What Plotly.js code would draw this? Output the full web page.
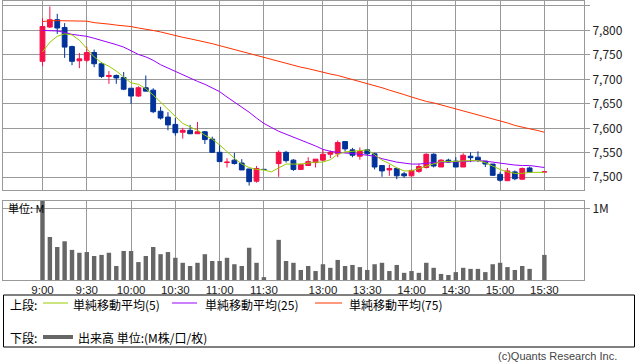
<!DOCTYPE html>
<html>
<head>
<meta charset="utf-8">
<script src="https://cdn.plot.ly/plotly-3.0.1.min.js"></script>
<style>
html,body{margin:0;padding:0;background:#fff;}
#chart{width:638px;height:362px;}
</style>
</head>
<body>
<div id="chart"></div>
<script>
// ---- data ----
var times = ["9:00","9:05","9:10","9:15","9:20","9:25","9:30","9:35","9:40","9:45","9:50","9:55",
"10:00","10:05","10:10","10:15","10:20","10:25","10:30","10:35","10:40","10:45","10:50","10:55",
"11:00","11:05","11:10","11:15","11:20","11:25","11:30","12:25",
"12:30","12:35","12:40","12:45","12:50","12:55",
"13:00","13:05","13:10","13:15","13:20","13:25","13:30","13:35","13:40","13:45","13:50","13:55",
"14:00","14:05","14:10","14:15","14:20","14:25","14:30","14:35","14:40","14:45","14:50","14:55",
"15:00","15:05","15:10","15:15","15:20","15:25","15:30"];

var openP = [7737,7807,7822,7806,7767,7738,7739,7755,7732,7706,7708,7704,7682,7666,7683,7678,7635,7623,7608,7592,
7596,7589,7593,7578,7551,7530,7535,7529,7517,7492,7516,null,7528,7551,7535,7516,7524,7530,7535,7547,
7548,7573,7556,7543,7556,7548,7524,7515,7518,7507,7503,7512,7520,7547,7521,7535,7533,7521,7543,7541,
7533,7527,7506,7493,7511,7496,7519,null,7511];
var highP = [7825,7849,7834,7815,7769,7754,7767,7761,7735,7717,7710,7715,7682,7686,7708,7682,7644,7633,7621,7601,
7607,7613,7594,7583,7567,7539,7550,7537,7517,7523,7516,null,7555,7554,7537,7528,7541,7537,7556,7555,
7575,7574,7560,7561,7558,7550,7524,7526,7520,7511,7516,7528,7549,7549,7537,7538,7541,7549,7551,7553,
7533,7527,7511,7519,7514,7520,7522,null,7511];
var lowP = [7727,7805,7793,7744,7729,7723,7735,7725,7703,7691,7691,7678,7650,7664,7676,7631,7618,7596,7585,7579,
7588,7589,7568,7551,7532,7520,7526,7515,7483,7489,7516,null,7501,7530,7513,7515,7524,7520,7533,7539,
7541,7553,7541,7536,7545,7516,7501,7503,7496,7499,7501,7509,7518,7520,7521,7530,7521,7521,7531,7531,
7521,7503,7491,7493,7494,7495,7510,null,7511];
var closeP = [7808,7822,7805,7766,7737,7742,7755,7732,7706,7708,7703,7680,7666,7683,7676,7634,7621,7607,7591,7596,
7589,7593,7577,7551,7532,7531,7528,7515,7491,7518,7516,null,7551,7534,7516,7526,7532,7537,7547,7551,
7571,7558,7545,7553,7548,7521,7513,7518,7503,7503,7514,7522,7547,7523,7535,7531,7521,7545,7540,7535,
7527,7504,7494,7513,7497,7518,7510,null,7511];

var ma5 = [7756,7776,7788,7793,7791,7780,7763,7746,7734,7727,7717,7705,7693,7690,7681,7668,7654,7639,7624,7610,
7603,7596,7586,7578,7566,7552,7539,7527,7520,7516,7515,7511,7519,7527,7527,7527,7529,7531,7531,7536,
7547,7552,7553,7555,7556,7546,7535,7528,7519,7513,7513,7518,7523,7528,7532,7532,7533,7533,7534,7534,
7530,7523,7516,7511,7508,7508,7510,7510,7510];
var ma25 = [7800,7800,7799,7796,7792,7790,7788,7784,7780,7775,7771,7766,7758,7751,7746,7739,7730,7723,7717,7709,
7703,7696,7690,7683,7675,7664,7654,7644,7633,7621,7610,7602,7594,7588,7582,7576,7571,7564,7557,7553,
7551,7550,7548,7547,7545,7543,7538,7534,7531,7529,7527,7527,7529,7530,7531,7531,7531,7532,7533,7534,
7533,7531,7528,7527,7525,7524,7524,7522,7520];
var ma75 = [7818,7820,7820,7820,7820,7820,7819,7816,7815,7813,7811,7810,7808,7805,7803,7800,7797,7793,7790,7786,
7783,7780,7776,7773,7769,7765,7761,7756,7752,7748,7744,7740,7736,7732,7729,7725,7722,7718,7714,7711,
7708,7704,7700,7695,7691,7687,7683,7678,7674,7669,7664,7659,7655,7652,7648,7643,7639,7635,7631,7628,
7623,7619,7615,7611,7606,7602,7599,7596,7592];

var volume = [1.15,0.60,0.46,0.54,0.42,0.38,0.39,0.335,0.35,0.38,0.195,0.405,0.405,0.25,0.335,0.46,0.36,0.39,0.31,0.24,
0.195,0.24,0.36,0.265,0.265,0.31,0.22,0.195,0.45,0.24,0.04,null,0.56,0.265,0.24,0.14,0.195,0.125,0.22,0.17,
0.28,0.195,0.21,0.18,0.14,0.22,0.24,0.125,0.21,0.10,0.125,0.10,0.24,0.17,0.085,0.07,0.11,0.17,0.155,0.155,
0.11,0.22,0.24,0.18,0.14,0.195,0.155,null,0.35];

var tickTimes = ["9:00","9:30","10:00","10:30","11:00","11:30","13:00","13:30","14:00","14:30","15:00","15:30"];
var priceTicks = [7500,7550,7600,7650,7700,7750,7800,7850];
var volTicks = [1];
var volTickText = ["1M"];

// ---- layout helpers ----
var W = 638, H = 362;
function px(x){ return x / W; }
function py(y){ return 1 - y / H; }
var GRID = '#999999';
var FONT = 'Noto Sans CJK JP, Noto Sans, sans-serif';
var LATIN = 'Liberation Sans, Arial, sans-serif';

var traces = [
  {type:'candlestick', x:times, open:openP, high:highP, low:lowP, close:closeP,
   xaxis:'x', yaxis:'y', whiskerwidth:0, hoverinfo:'skip',
   increasing:{line:{color:'#f5104a', width:1}, fillcolor:'#f5104a'},
   decreasing:{line:{color:'#003399', width:1}, fillcolor:'#003399'}},
  {type:'scatter', mode:'lines', x:times, y:ma75, xaxis:'x', yaxis:'y',
   line:{color:'#ff3300', width:1}},
  {type:'scatter', mode:'lines', x:times, y:ma25, xaxis:'x', yaxis:'y',
   line:{color:'#9900ff', width:1}},
  {type:'scatter', mode:'lines', x:times, y:ma5, xaxis:'x', yaxis:'y',
   line:{color:'#99cc00', width:1}},
  {type:'bar', x:times, y:volume, xaxis:'x2', yaxis:'y2',
   marker:{color:'#666666', line:{width:0}}, width:0.6}
];

var xr = [-5.35, 73.37];

function note(text, x, y, anchor, size, color, fam){
  return {text:text, xref:'paper', yref:'paper', x:px(x), y:py(y), xanchor:anchor, yanchor:'middle',
          showarrow:false, borderpad:0, font:{size:size, color:color, family:fam || FONT}};
}

var layout = {
  width: W, height: H,
  margin:{l:0, r:0, t:0, b:0, pad:0},
  paper_bgcolor:'#ffffff', plot_bgcolor:'#ffffff',
  showlegend:false,
  font:{family:FONT, size:12, color:'#222'},
  boxgap:0.1, boxgroupgap:0.28,
  xaxis:{
    domain:[px(3), px(584)], anchor:'y', type:'category',
    categoryorder:'array', categoryarray:times,
    range:xr, rangeslider:{visible:false},
    tickmode:'array', tickvals:tickTimes, showticklabels:false, ticks:'',
    showgrid:true, gridcolor:GRID, gridwidth:1, zeroline:false,
    showline:true, mirror:true, linecolor:GRID, linewidth:1, fixedrange:true
  },
  yaxis:{
    domain:[py(190), py(1)], anchor:'x', side:'right',
    range:[7474, 7860.2], tickmode:'array', tickvals:priceTicks, tickformat:',d',
    ticks:'outside', ticklen:5, tickcolor:GRID, tickwidth:1,
    tickfont:{family:FONT, size:12, color:'#222'},
    showgrid:true, gridcolor:GRID, gridwidth:1, zeroline:false,
    showline:true, mirror:true, linecolor:GRID, linewidth:1, fixedrange:true
  },
  xaxis2:{
    domain:[px(3), px(584)], anchor:'y2', type:'category',
    categoryorder:'array', categoryarray:times,
    range:xr,
    tickmode:'array', tickvals:tickTimes, ticktext:tickTimes, ticks:'',
    ticklabelstandoff:-1,
    tickfont:{family:LATIN, size:11.5, color:'#222'},
    showgrid:true, gridcolor:GRID, gridwidth:1, zeroline:false,
    showline:true, mirror:true, linecolor:GRID, linewidth:1, fixedrange:true
  },
  yaxis2:{
    domain:[py(280), py(201)], anchor:'x2', side:'right',
    range:[0, 1.102], tickmode:'array', tickvals:volTicks, ticktext:volTickText,
    ticks:'outside', ticklen:5, tickcolor:GRID, tickwidth:1,
    tickfont:{family:FONT, size:12, color:'#222'},
    showgrid:true, gridcolor:GRID, gridwidth:1, zeroline:false,
    showline:true, mirror:true, linecolor:GRID, linewidth:1, fixedrange:true
  },
  shapes:[
    {type:'rect', xref:'paper', yref:'paper', x0:px(3.5), x1:px(634.5), y0:py(295), y1:py(347),
     line:{color:'#000', width:1}, fillcolor:'rgba(0,0,0,0)'},
    {type:'line', xref:'paper', yref:'paper', x0:px(43), x1:px(68), y0:py(303), y1:py(303),
     line:{color:'#99cc00', width:1}},
    {type:'line', xref:'paper', yref:'paper', x0:px(172), x1:px(197), y0:py(303), y1:py(303),
     line:{color:'#9900ff', width:1}},
    {type:'line', xref:'paper', yref:'paper', x0:px(315), x1:px(342), y0:py(303), y1:py(303),
     line:{color:'#ff3300', width:1}},
    {type:'line', xref:'paper', yref:'paper', x0:px(43), x1:px(73), y0:py(337), y1:py(337),
     line:{color:'#666666', width:4}}
  ],
  annotations:[
    note('単位: M', 7, 208, 'left', 11, '#000'),
    note('上段:', 9, 304, 'left', 12, '#000'),
    note('単純移動平均(5)', 72, 304, 'left', 12, '#000'),
    note('単純移動平均(25)', 204, 304, 'left', 12, '#000'),
    note('単純移動平均(75)', 348, 304, 'left', 12, '#000'),
    note('下段:', 9, 337, 'left', 12, '#000'),
    note('出来高 単位:(M株/口/枚)', 77, 337, 'left', 12, '#000'),
    note('(c)Quants Research Inc.', 618, 355.5, 'right', 11, '#444', LATIN)
  ]
};

Plotly.newPlot('chart', traces, layout, {staticPlot:true, displayModeBar:false});
</script>
</body>
</html>
